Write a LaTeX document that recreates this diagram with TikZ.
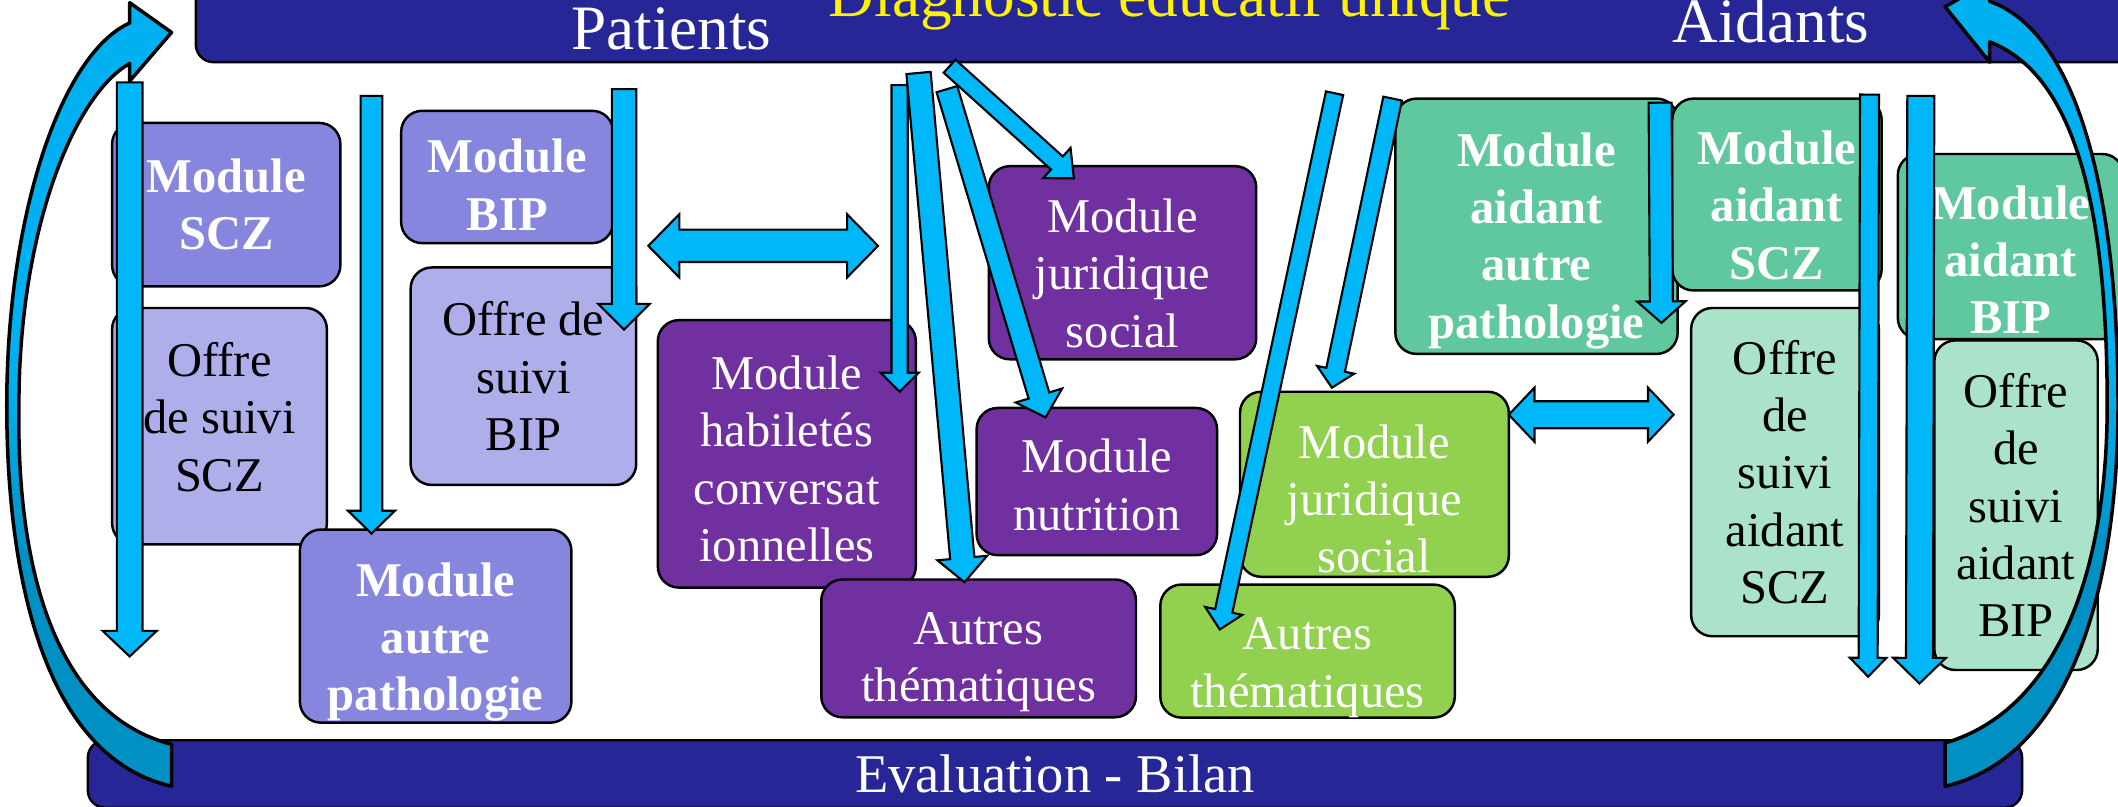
\documentclass[tikz,border=0pt]{standalone}
\usepackage{fontspec}
\setmainfont{Liberation Serif}
\usetikzlibrary{calc}

\definecolor{barblue}{RGB}{38,38,150}
\definecolor{peri}{RGB}{134,134,222}
\definecolor{perilight}{RGB}{174,174,235}
\definecolor{modpurple}{RGB}{112,48,160}
\definecolor{modgreen}{RGB}{146,208,80}
\definecolor{modteal}{RGB}{96,200,158}
\definecolor{modteallight}{RGB}{170,226,202}
\definecolor{arrowblue}{RGB}{0,184,248}
\definecolor{curvetop}{RGB}{0,176,240}
\definecolor{curvebot}{RGB}{0,144,196}

\newcommand{\drop}[1]{\rule{0pt}{#1}}
\newcommand{\loopleft}{(96,17) -- (96,2) -- (127,24) -- (96,60) -- (96,47)
  .. controls (55,70) and (14,170) .. (14,300)
  .. controls (12,430) and (45,530) .. (127,551)
  -- (127,582)
  .. controls (30,560) and (5,420) .. (5,300)
  .. controls (5,160) and (45,40) .. (96,17) -- cycle}
\newcommand{\loopright}{(1473,1) -- (1473,-14) -- (1440,5) -- (1473,46) -- (1473,31)
  .. controls (1535,55) and (1560,150) .. (1560,300)
  .. controls (1560,420) and (1525,525) .. (1440,550)
  -- (1440,582)
  .. controls (1535,560) and (1568,430) .. (1568,300)
  .. controls (1568,150) and (1540,25) .. (1473,1) -- cycle}
\newcommand{\loopcurve}[1]{%
  \fill[curvetop] #1;
  \begin{scope}
    \clip #1;
    \shade[top color=curvetop, bottom color=curvebot] (-10,280) rectangle (1580,420);
    \fill[curvebot] (-10,420) rectangle (1580,600);
  \end{scope}
  \draw[line width=1pt, line join=round] #1;}

\begin{document}
\begin{tikzpicture}[x=0.3843pt, y=-0.3843pt]
\tikzset{modbox/.style 2 args={draw, line width=0.7pt, rounded corners=6pt, align=center, inner sep=0pt,
           minimum width=#1*0.3843pt, minimum height=#2*0.3843pt, font=\fontsize{13.8}{16.3}\selectfont},
         patmod/.style={fill=peri, text=white, font=\fontsize{13.8}{16.3}\selectfont\bfseries},
         patoffre/.style={fill=perilight, text=black},
         comm/.style={fill=modpurple, text=white},
         aidcomm/.style={fill=modgreen, text=white},
         aidmod/.style={fill=modteal, text=white, font=\fontsize{13.8}{16.3}\selectfont\bfseries},
         aidoffre/.style={fill=modteallight, text=black},
         bar/.style={draw, fill=barblue, line width=0.7pt, rounded corners=5pt, inner sep=0pt, text=white},
         title/.style={anchor=base, font=\fontsize{18}{20}\selectfont},
         blk/.style={draw, fill=arrowblue, line width=0.6pt, line join=miter},
         onearrow/.style n args={3}{to path={
           ($(\tikztostart)!#1!90:(\tikztotarget)$)
           -- ($($(\tikztotarget)!#3!(\tikztostart)$)!#1!90:(\tikztotarget)$)
           -- ($($(\tikztotarget)!#3!(\tikztostart)$)!#2!90:(\tikztotarget)$)
           -- (\tikztotarget)
           -- ($($(\tikztotarget)!#3!(\tikztostart)$)!#2!-90:(\tikztotarget)$)
           -- ($($(\tikztotarget)!#3!(\tikztostart)$)!#1!-90:(\tikztotarget)$)
           -- ($(\tikztostart)!#1!-90:(\tikztotarget)$)
           -- cycle}},
         twoarrow/.style n args={3}{to path={
           (\tikztostart)
           -- ($($(\tikztostart)!#3!(\tikztotarget)$)!#2!90:(\tikztotarget)$)
           -- ($($(\tikztostart)!#3!(\tikztotarget)$)!#1!90:(\tikztotarget)$)
           -- ($($(\tikztotarget)!#3!(\tikztostart)$)!#1!90:(\tikztotarget)$)
           -- ($($(\tikztotarget)!#3!(\tikztostart)$)!#2!90:(\tikztotarget)$)
           -- (\tikztotarget)
           -- ($($(\tikztotarget)!#3!(\tikztostart)$)!#2!-90:(\tikztotarget)$)
           -- ($($(\tikztotarget)!#3!(\tikztostart)$)!#1!-90:(\tikztotarget)$)
           -- ($($(\tikztostart)!#3!(\tikztotarget)$)!#1!-90:(\tikztotarget)$)
           -- ($($(\tikztostart)!#3!(\tikztotarget)$)!#2!-90:(\tikztotarget)$)
           -- cycle}}}
    \useasboundingbox (0,0) rectangle (1568,597);

    \node[bar, minimum width=1455*0.3843pt, minimum height=80*0.3843pt] (diag) at (872.5,6) {};
    \node[bar, minimum width=1432*0.3843pt, minimum height=50*0.3843pt,
          font=\fontsize{15.5}{17}\selectfont] (eval) at (781,573) {Evaluation - Bilan};
    \node[title, text=white] (patients) at (497,37) {Patients};
    \node[title, text=yellow] (diagtxt) at (866,12.5) {Diagnostic éducatif unique};
    \node[title, text=white] (aidants) at (1311,31.5) {Aidants};

    \node[modbox={169}{121}, patmod] (scz) at (167.5,151.5) {Module\\SCZ};
    \node[modbox={159}{175}, patoffre] (offscz) at (162.5,315.5) {Offre\\de suivi\\SCZ\rule[-5.4pt]{0pt}{5.4pt}};
    \node[modbox={157}{98}, patmod] (bip) at (375.5,131) {\drop{14pt}Module\\BIP};
    \node[modbox={167}{161}, patoffre] (offbip) at (387.5,278.5) {Offre de\\suivi\\BIP};
    \node[modbox={201}{143}, patmod] (autre) at (322.5,463.5) {\drop{18.6pt}Module\\autre\\pathologie};
    \node[modbox={191}{198}, comm] (habil) at (582.5,336) {\drop{12.4pt}Module\\habiletés\\conversat\\ionnelles};
    \node[modbox={198}{143}, comm] (jurpat) at (831,194.5) {\drop{15.6pt}Module\\juridique\\social};
    \node[modbox={178}{109}, comm] (nutri) at (812,356.5) {\drop{11.5pt}Module\\nutrition};
    \node[modbox={233}{102}, comm] (autrespat) at (724.5,480) {\drop{17pt}Autres\\thématiques};
    \node[modbox={199}{137}, aidcomm] (juraid) at (1017.5,358.5) {\drop{17.8pt}Module\\juridique\\social};
    \node[modbox={218}{96}, aidcomm] (autresaid) at (968,482) {\drop{18.6pt}Autres\\thématiques};
    \node[modbox={209}{189}, aidmod] (aidautre) at (1137.5,167.5) {\drop{17.8pt}Module\\aidant\\autre\\pathologie};
    \node[modbox={155}{142}, aidmod] (aidscz) at (1315.5,144) {\drop{15.6pt}Module\\aidant\\SCZ};
    \node[modbox={139}{243}, aidoffre] (offaidscz) at (1321.5,349.5) {Offre\\de\\suivi\\aidant\\SCZ};
    \node[modbox={167}{137}, aidmod] (aidbip) at (1488.5,182.5) {\drop{17pt}Module\\aidant\\BIP};
    \node[modbox={121}{244}, aidoffre] (offaidbip) at (1492.5,374) {Offre\\de\\suivi\\aidant\\BIP};

    \coordinate (s1) at (96,61);     \coordinate (e1) at (96,486);
    \coordinate (s2) at (275,71);    \coordinate (e2) at (275,395);
    \coordinate (s3) at (462,66);    \coordinate (e3) at (462,244);
    \coordinate (s4) at (480,182);   \coordinate (e4) at (650,182);
    \coordinate (s5) at (666,63);    \coordinate (e5) at (666,290);
    \coordinate (s6) at (680,54);    \coordinate (e6) at (714,431);
    \coordinate (s7) at (701,66);    \coordinate (e7) at (774,309);
    \coordinate (s8) at (703,49);    \coordinate (e8) at (795,132);
    \coordinate (s9) at (988,69);    \coordinate (e9) at (903,466);
    \coordinate (s10) at (1031,73);  \coordinate (e10) at (986,287);
    \coordinate (s11) at (1117,307); \coordinate (e11) at (1239,307);
    \coordinate (s12) at (1229,76);  \coordinate (e12) at (1230,239);
    \coordinate (s13) at (1384,70);  \coordinate (e13) at (1383,501);
    \coordinate (s14) at (1422,71);  \coordinate (e14) at (1421,506);

    \draw[blk] (s1) to[onearrow={3.65pt}{7.7pt}{7.3pt}] (e1);
    \draw[blk] (s2) to[onearrow={3.07pt}{6.7pt}{6.5pt}] (e2);
    \draw[blk] (s3) to[onearrow={3.46pt}{7.3pt}{7.3pt}] (e3);
    \draw[blk] (s4) to[twoarrow={4.6pt}{9pt}{8.8pt}] (e4);
    \draw[blk] (s5) to[onearrow={2.3pt}{5.4pt}{5.4pt}] (e5);
    \draw[blk] (s6) to[onearrow={3.46pt}{7.1pt}{6.9pt}] (e6);
    \draw[blk] (s7) to[onearrow={3.07pt}{6.9pt}{6.5pt}] (e7);
    \draw[blk] (s8) to[onearrow={2.5pt}{5.8pt}{6.5pt}] (e8);
    \draw[blk] (s9) to[onearrow={2.5pt}{5.4pt}{5.4pt}] (e9);
    \draw[blk] (s10) to[onearrow={2.7pt}{5.4pt}{5.2pt}] (e10);
    \draw[blk] (s11) to[twoarrow={3.84pt}{7.7pt}{7.3pt}] (e11);
    \draw[blk] (s12) to[onearrow={3.27pt}{6.9pt}{6.1pt}] (e12);
    \draw[blk] (s13) to[onearrow={2.7pt}{5.2pt}{5.4pt}] (e13);
    \draw[blk] (s14) to[onearrow={3.84pt}{7.5pt}{7.3pt}] (e14);

    \loopcurve{\loopleft}
    \loopcurve{\loopright}
\end{tikzpicture}
\end{document}
